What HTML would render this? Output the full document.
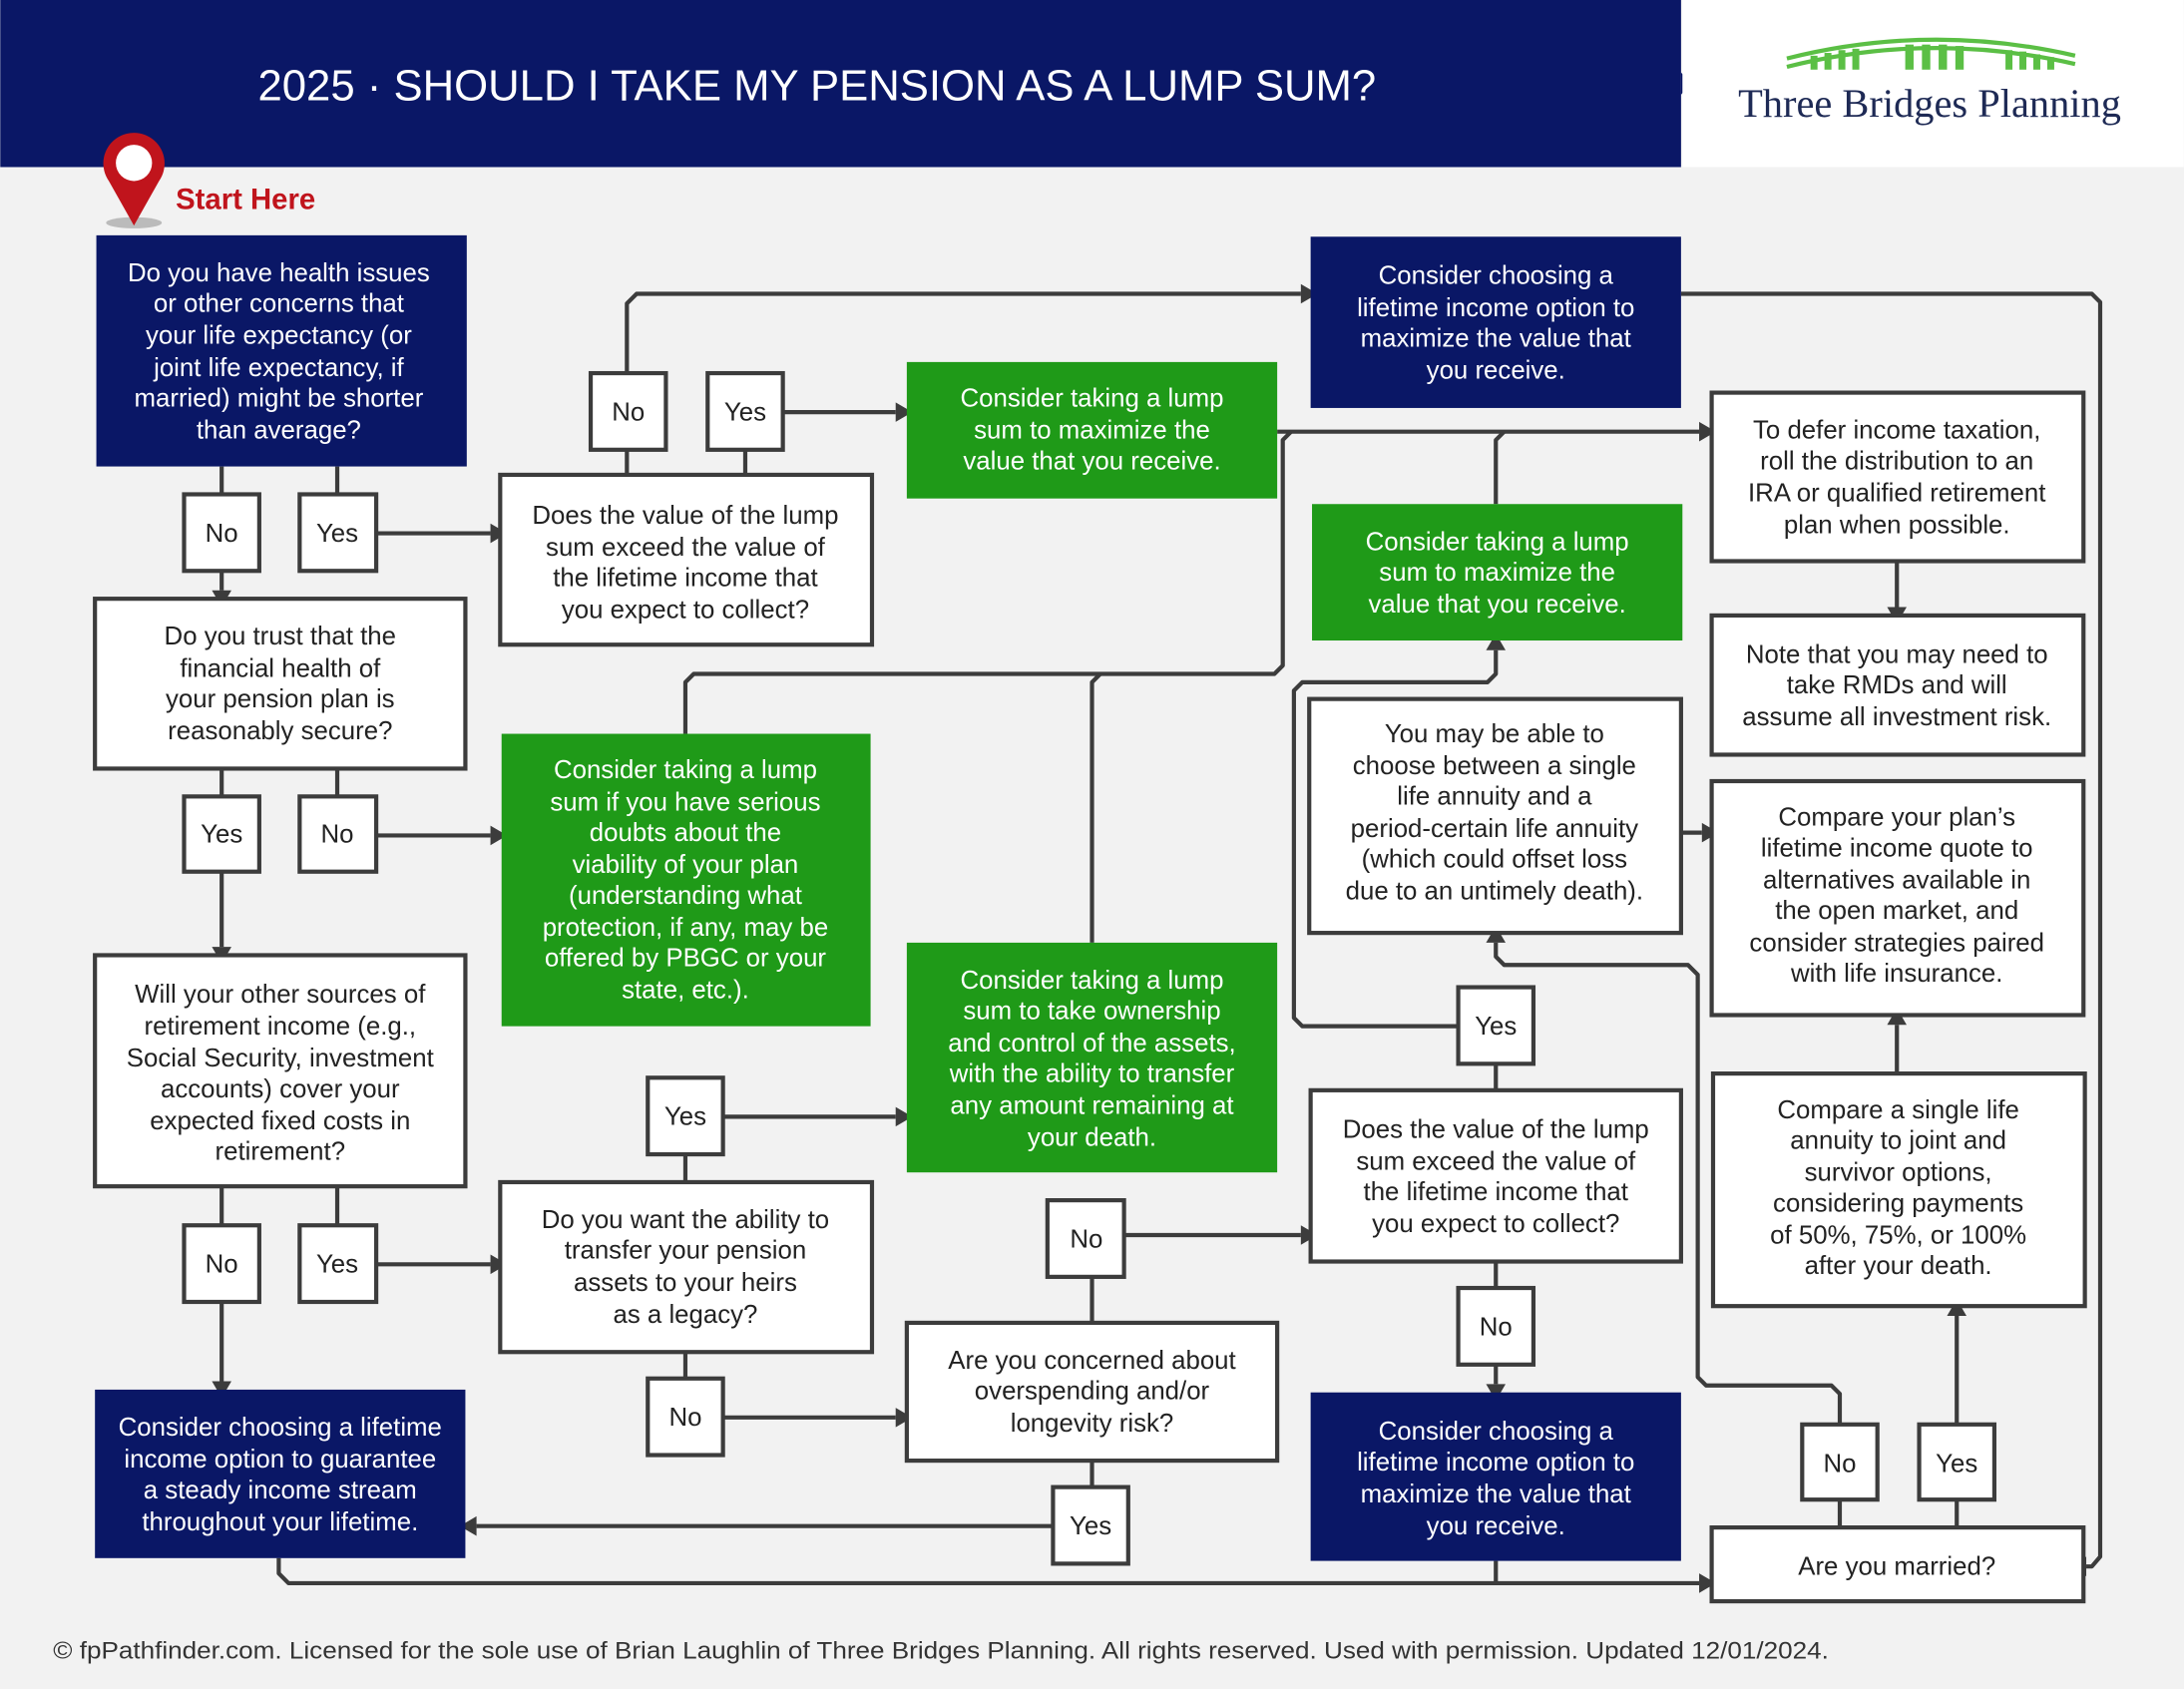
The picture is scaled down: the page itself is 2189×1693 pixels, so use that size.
<!DOCTYPE html>
<html><head><meta charset="utf-8"><style>
html,body{margin:0;padding:0;background:#f2f2f2;}
svg{display:block;}
text{font-family:"Liberation Sans",sans-serif;}
.t{font-size:18.5px;text-anchor:middle;fill:#222;}
.w{font-size:18.5px;text-anchor:middle;fill:#fff;}
.yn{font-size:18.5px;text-anchor:middle;fill:#222;}
.wb{fill:#fff;stroke:#3c3c3c;stroke-width:3;}
.nv{fill:#0a1766;}
.gr{fill:#1f9a18;}
.ln{fill:none;stroke:#3c3c3c;stroke-width:3;stroke-linejoin:round;}
.ah{fill:#3c3c3c;}
</style></head><body>
<svg width="2189" height="1693" viewBox="0 0 1568 1213" xmlns="http://www.w3.org/2000/svg">
<rect x="0" y="0" width="1568" height="1213" fill="#f2f2f2"/>
<rect x="0" y="0" width="1207" height="120" fill="#0a1766"/>
<polygon points="1207,52 1214,60 1207,68" fill="#0a1766"/>
<rect x="1208" y="0" width="360" height="120" fill="#fff"/>
<text x="185" y="72" font-size="31" fill="#fff" textLength="803" lengthAdjust="spacingAndGlyphs">2025 · SHOULD I TAKE MY PENSION AS A LUMP SUM?</text>
<path d="M1283,48 Q1386,22 1490,46" fill="none" stroke="#5bbf45" stroke-width="3"/>
<path d="M1283,42 Q1386,16 1490,40" fill="none" stroke="#5bbf45" stroke-width="3"/>
<g fill="#5bbf45">
<rect x="1300" y="40" width="5" height="10"/><rect x="1310" y="38" width="5" height="12"/><rect x="1320" y="36" width="5" height="14"/><rect x="1330" y="35" width="5" height="15"/>
<rect x="1368" y="32" width="6" height="18"/><rect x="1380" y="32" width="6" height="18"/><rect x="1392" y="32" width="6" height="18"/><rect x="1404" y="33" width="6" height="17"/>
<rect x="1440" y="36" width="5" height="14"/><rect x="1450" y="37" width="5" height="13"/><rect x="1460" y="39" width="5" height="11"/><rect x="1470" y="41" width="5" height="9"/>
</g>
<text x="1248" y="84" style="font-family:'Liberation Serif',serif" font-size="29" fill="#1e2a55" textLength="275" lengthAdjust="spacingAndGlyphs">Three Bridges Planning</text>
<ellipse cx="96" cy="160" rx="20" ry="4" fill="#bbb"/>
<path d="M96,162 L78,130 A22,22 0 1 1 114,130 Z" fill="#c0141c"/>
<circle cx="96" cy="117" r="13" fill="#fff"/>
<text x="126" y="150" font-size="21" font-weight="bold" fill="#c0141c">Start Here</text>

<g class="ln">
<path d="M159,335 V355 M242,335 V355"/>
<path d="M270,383 H352"/>
<path d="M159,410 V424"/>
<path d="M450,268 V218 L457,211 H934"/>
<path d="M562,296 H643"/>
<path d="M450,323 V341 M535,323 V341"/>
<path d="M1207,211 H1502 L1508,217 V1118 L1502,1125 H1498"/>
<path d="M917,310 H1220"/>
<path d="M1074,362 V316 L1080,310"/>
<path d="M492,527 V490 L498,484 H915 L921,478 V316 L927,310"/>
<path d="M784,677 V490 L790,484"/>
<path d="M1362,403 V436"/>
<path d="M159,552 V572 M242,552 V572"/>
<path d="M270,600 H352"/>
<path d="M159,626 V680"/>
<path d="M159,852 V880 M242,852 V880"/>
<path d="M270,908 H352"/>
<path d="M159,935 V992"/>
<path d="M492,829 V849 M492,971 V990"/>
<path d="M519,802 H643"/>
<path d="M519,1018 H643"/>
<path d="M784,950 V917"/>
<path d="M807,887 H934"/>
<path d="M784,1049 V1068"/>
<path d="M756,1096 H342"/>
<path d="M1074,783 V764 M1074,906 V925"/>
<path d="M1074,980 V994"/>
<path d="M1047,737 H935 L929,731 V496 L935,490 H1068 L1074,484 V467"/>
<path d="M1207,598 H1222"/>
<path d="M1321,1023 V1001 L1315,995 H1225 L1219,989 V700 L1212,693 H1080 L1074,687 V677"/>
<path d="M1405,1023 V945"/>
<path d="M1362,771 V736"/>
<path d="M200,1119 V1130 L207,1137 H1220"/>
<path d="M1074,1121 V1137"/>
<path d="M1321,1077 V1097 M1405,1077 V1097"/>
</g>
<g class="ah">
<polygon points="352,376 364,383 352,390"/>
<polygon points="152,424 159,436 166,424"/>
<polygon points="934,204 946,211 934,218"/>
<polygon points="643,289 655,296 643,303"/>
<polygon points="1220,303 1232,310 1220,317"/>
<polygon points="1355,436 1362,448 1369,436"/>
<polygon points="352,593 364,600 352,607"/>
<polygon points="152,680 159,692 166,680"/>
<polygon points="352,901 364,908 352,915"/>
<polygon points="152,992 159,1004 166,992"/>
<polygon points="643,795 655,802 643,809"/>
<polygon points="643,1011 655,1018 643,1025"/>
<polygon points="934,880 946,887 934,894"/>
<polygon points="342,1089 330,1096 342,1103"/>
<polygon points="1067,994 1074,1006 1081,994"/>
<polygon points="1067,467 1074,455 1081,467"/>
<polygon points="1222,591 1234,598 1222,605"/>
<polygon points="1067,677 1074,665 1081,677"/>
<polygon points="1398,945 1405,933 1412,945"/>
<polygon points="1355,736 1362,724 1369,736"/>
<polygon points="1220,1130 1232,1137 1220,1144"/>
<polygon points="1498,1118 1486,1125 1498,1132"/>
</g>

<rect class="nv" x="69" y="169" width="266" height="166"/>
<text class="w"><tspan x="200" y="202">Do you have health issues</tspan><tspan x="200" y="224">or other concerns that</tspan><tspan x="200" y="247">your life expectancy (or</tspan><tspan x="200" y="270">joint life expectancy, if</tspan><tspan x="200" y="292">married) might be shorter</tspan><tspan x="200" y="315">than average?</tspan></text>

<rect class="wb" x="132" y="355" width="54" height="55"/><text class="yn" x="159" y="389">No</text>
<rect class="wb" x="215" y="355" width="55" height="55"/><text class="yn" x="242" y="389">Yes</text>

<rect class="wb" x="359" y="341" width="267" height="122"/>
<text class="t"><tspan x="492" y="376">Does the value of the lump</tspan><tspan x="492" y="399">sum exceed the value of</tspan><tspan x="492" y="421">the lifetime income that</tspan><tspan x="492" y="444">you expect to collect?</tspan></text>

<rect class="wb" x="424" y="268" width="54" height="55"/><text class="yn" x="451" y="302">No</text>
<rect class="wb" x="508" y="268" width="54" height="55"/><text class="yn" x="535" y="302">Yes</text>

<rect class="nv" x="941" y="170" width="266" height="123"/>
<text class="w"><tspan x="1074" y="204">Consider choosing a</tspan><tspan x="1074" y="227">lifetime income option to</tspan><tspan x="1074" y="249">maximize the value that</tspan><tspan x="1074" y="272">you receive.</tspan></text>

<rect class="gr" x="651" y="260" width="266" height="98"/>
<text class="w"><tspan x="784" y="292">Consider taking a lump</tspan><tspan x="784" y="315">sum to maximize the</tspan><tspan x="784" y="337">value that you receive.</tspan></text>

<rect class="wb" x="1229" y="282" width="267" height="121"/>
<text class="t"><tspan x="1362" y="315">To defer income taxation,</tspan><tspan x="1362" y="337">roll the distribution to an</tspan><tspan x="1362" y="360">IRA or qualified retirement</tspan><tspan x="1362" y="383">plan when possible.</tspan></text>

<rect class="wb" x="1229" y="442" width="267" height="100"/>
<text class="t"><tspan x="1362" y="476">Note that you may need to</tspan><tspan x="1362" y="498">take RMDs and will</tspan><tspan x="1362" y="521">assume all investment risk.</tspan></text>

<rect class="gr" x="942" y="362" width="266" height="98"/>
<text class="w"><tspan x="1075" y="395">Consider taking a lump</tspan><tspan x="1075" y="417">sum to maximize the</tspan><tspan x="1075" y="440">value that you receive.</tspan></text>

<rect class="wb" x="68" y="430" width="266" height="122"/>
<text class="t"><tspan x="201" y="463">Do you trust that the</tspan><tspan x="201" y="486">financial health of</tspan><tspan x="201" y="508">your pension plan is</tspan><tspan x="201" y="531">reasonably secure?</tspan></text>

<rect class="wb" x="132" y="572" width="54" height="54"/><text class="yn" x="159" y="605">Yes</text>
<rect class="wb" x="215" y="572" width="55" height="54"/><text class="yn" x="242" y="605">No</text>

<rect class="gr" x="360" y="527" width="265" height="210"/>
<text class="w"><tspan x="492" y="559">Consider taking a lump</tspan><tspan x="492" y="582">sum if you have serious</tspan><tspan x="492" y="604">doubts about the</tspan><tspan x="492" y="627">viability of your plan</tspan><tspan x="492" y="649">(understanding what</tspan><tspan x="492" y="672">protection, if any, may be</tspan><tspan x="492" y="694">offered by PBGC or your</tspan><tspan x="492" y="717">state, etc.).</tspan></text>

<rect class="wb" x="940" y="502" width="267" height="168"/>
<text class="t"><tspan x="1073" y="533">You may be able to</tspan><tspan x="1073" y="556">choose between a single</tspan><tspan x="1073" y="578">life annuity and a</tspan><tspan x="1073" y="601">period-certain life annuity</tspan><tspan x="1073" y="623">(which could offset loss</tspan><tspan x="1073" y="646">due to an untimely death).</tspan></text>

<rect class="wb" x="1229" y="561" width="267" height="168"/>
<text class="t"><tspan x="1362" y="593">Compare your plan’s</tspan><tspan x="1362" y="615">lifetime income quote to</tspan><tspan x="1362" y="638">alternatives available in</tspan><tspan x="1362" y="660">the open market, and</tspan><tspan x="1362" y="683">consider strategies paired</tspan><tspan x="1362" y="705">with life insurance.</tspan></text>

<rect class="wb" x="68" y="686" width="266" height="166"/>
<text class="t"><tspan x="201" y="720">Will your other sources of</tspan><tspan x="201" y="743">retirement income (e.g.,</tspan><tspan x="201" y="766">Social Security, investment</tspan><tspan x="201" y="788">accounts) cover your</tspan><tspan x="201" y="811">expected fixed costs in</tspan><tspan x="201" y="833">retirement?</tspan></text>

<rect class="gr" x="651" y="677" width="266" height="165"/>
<text class="w"><tspan x="784" y="710">Consider taking a lump</tspan><tspan x="784" y="732">sum to take ownership</tspan><tspan x="784" y="755">and control of the assets,</tspan><tspan x="784" y="777">with the ability to transfer</tspan><tspan x="784" y="800">any amount remaining at</tspan><tspan x="784" y="823">your death.</tspan></text>

<rect class="wb" x="1047" y="709" width="54" height="55"/><text class="yn" x="1074" y="743">Yes</text>
<rect class="wb" x="465" y="774" width="54" height="55"/><text class="yn" x="492" y="808">Yes</text>

<rect class="wb" x="1230" y="771" width="267" height="167"/>
<text class="t"><tspan x="1363" y="803">Compare a single life</tspan><tspan x="1363" y="825">annuity to joint and</tspan><tspan x="1363" y="848">survivor options,</tspan><tspan x="1363" y="870">considering payments</tspan><tspan x="1363" y="893">of 50%, 75%, or 100%</tspan><tspan x="1363" y="915">after your death.</tspan></text>

<rect class="wb" x="941" y="783" width="266" height="123"/>
<text class="t"><tspan x="1074" y="817">Does the value of the lump</tspan><tspan x="1074" y="840">sum exceed the value of</tspan><tspan x="1074" y="862">the lifetime income that</tspan><tspan x="1074" y="885">you expect to collect?</tspan></text>

<rect class="wb" x="359" y="849" width="267" height="122"/>
<text class="t"><tspan x="492" y="882">Do you want the ability to</tspan><tspan x="492" y="904">transfer your pension</tspan><tspan x="492" y="927">assets to your heirs</tspan><tspan x="492" y="950">as a legacy?</tspan></text>

<rect class="wb" x="752" y="862" width="55" height="55"/><text class="yn" x="780" y="896">No</text>
<rect class="wb" x="132" y="880" width="54" height="55"/><text class="yn" x="159" y="914">No</text>
<rect class="wb" x="215" y="880" width="55" height="55"/><text class="yn" x="242" y="914">Yes</text>
<rect class="wb" x="1047" y="925" width="54" height="55"/><text class="yn" x="1074" y="959">No</text>

<rect class="wb" x="651" y="950" width="266" height="99"/>
<text class="t"><tspan x="784" y="983">Are you concerned about</tspan><tspan x="784" y="1005">overspending and/or</tspan><tspan x="784" y="1028">longevity risk?</tspan></text>

<rect class="wb" x="465" y="990" width="54" height="55"/><text class="yn" x="492" y="1024">No</text>

<rect class="nv" x="68" y="998" width="266" height="121"/>
<text class="w"><tspan x="201" y="1031">Consider choosing a lifetime</tspan><tspan x="201" y="1054">income option to guarantee</tspan><tspan x="201" y="1076">a steady income stream</tspan><tspan x="201" y="1099">throughout your lifetime.</tspan></text>

<rect class="nv" x="941" y="1000" width="266" height="121"/>
<text class="w"><tspan x="1074" y="1034">Consider choosing a</tspan><tspan x="1074" y="1056">lifetime income option to</tspan><tspan x="1074" y="1079">maximize the value that</tspan><tspan x="1074" y="1102">you receive.</tspan></text>

<rect class="wb" x="1294" y="1023" width="54" height="54"/><text class="yn" x="1321" y="1057">No</text>
<rect class="wb" x="1378" y="1023" width="54" height="54"/><text class="yn" x="1405" y="1057">Yes</text>
<rect class="wb" x="756" y="1068" width="54" height="55"/><text class="yn" x="783" y="1102">Yes</text>

<rect class="wb" x="1229" y="1097" width="267" height="53"/>
<text class="t" x="1362" y="1131">Are you married?</text>

<text x="38" y="1191" font-size="17.5" fill="#333" textLength="1275" lengthAdjust="spacingAndGlyphs">© fpPathfinder.com. Licensed for the sole use of Brian Laughlin of Three Bridges Planning. All rights reserved. Used with permission. Updated 12/01/2024.</text>
</svg>
</body></html>
